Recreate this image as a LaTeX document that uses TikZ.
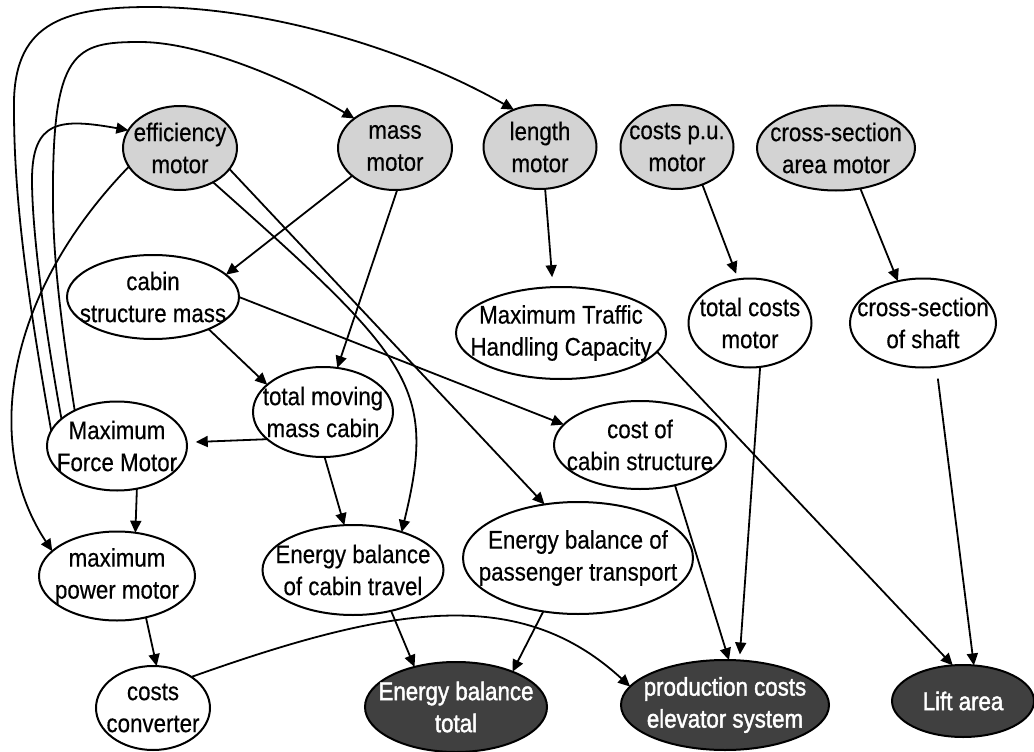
\documentclass[tikz,border=0pt]{standalone}
\usepackage{fontspec}
\setmainfont[FakeStretch=0.875,FakeBold=0.4]{Liberation Sans}
\newfontfamily\darkfont[FakeStretch=0.875,FakeBold=1.6]{Liberation Sans}
\usetikzlibrary{shapes.geometric,arrows.meta}
\definecolor{greyfill}{RGB}{211,211,211}
\definecolor{darkfill}{RGB}{64,64,64}
\tikzset{
  ell/.style={ellipse, draw=black, line width=2pt, inner sep=0pt, outer sep=0pt},
  lite/.style={ell, fill=white},
  grey/.style={ell, fill=greyfill},
  dark/.style={ell, fill=darkfill},
  lbl/.style={align=center, inner sep=0pt, font=\fontsize{25.5}{32}\selectfont},
  dlbl/.style={align=center, inner sep=0pt, text=white, font=\darkfont\fontsize{25.5}{32}\selectfont},
  conn/.style={line width=1.8pt, -{Triangle[length=12pt,width=11pt]}},
}
\begin{document}
\begin{tikzpicture}[x=1pt,y=-1pt]
\useasboundingbox[fill=white] (0,0) rectangle (1034,752);
% top row
\node[grey, minimum width=114pt, minimum height=84pt, label={[lbl]center:{efficiency\\motor}}] (eff) at (180,148) {};
\node[grey, minimum width=114pt, minimum height=84pt, label={[lbl]center:{mass\\motor}}] (mass) at (395,148) {};
\node[grey, minimum width=113pt, minimum height=84pt, label={[lbl]center:{length\\motor}}] (len) at (540,147) {};
\node[grey, minimum width=113pt, minimum height=84pt, label={[lbl]center:{costs p.u.\\motor}}] (cpu) at (677,147) {};
\node[grey, minimum width=158pt, minimum height=85pt, label={[lbl]center:{cross-section\\area motor}}] (csam) at (836,148) {};
% second row
\node[lite, minimum width=172pt, minimum height=84pt, label={[lbl]center:{cabin\\structure mass}}] (csm) at (153,297) {};
\node[lite, minimum width=210pt, minimum height=92pt, label={[lbl]center:{Maximum Traffic\\Handling Capacity}}] (mthc) at (561,333) {};
\node[lite, minimum width=123pt, minimum height=89pt, label={[lbl]center:{total costs\\motor}}] (tcm) at (750,323) {};
\node[lite, minimum width=146pt, minimum height=89pt, label={[lbl]center:{cross-section\\of shaft}}] (css) at (923,323) {};
% third row
\node[lite, minimum width=140pt, minimum height=90pt, label={[lbl]center:{total moving\\mass cabin}}] (tmmc) at (323,412) {};
\node[lite, minimum width=140pt, minimum height=89pt, label={[lbl]center:{Maximum\\Force Motor}}] (mfm) at (117,446) {};
\node[lite, minimum width=172pt, minimum height=88pt, label={[lbl]center:{cost of\\cabin structure}}] (ccs) at (640,445) {};
% fourth row
\node[lite, minimum width=156pt, minimum height=89pt, label={[lbl]center:{maximum\\power motor}}] (mpm) at (117,576) {};
\node[lite, minimum width=181pt, minimum height=90pt, label={[lbl]center:{Energy balance\\of cabin travel}}] (ebct) at (353,570) {};
\node[lite, minimum width=230pt, minimum height=112pt, label={[lbl]center:{Energy balance of\\passenger transport}}] (ebpt) at (578,558) {};
% bottom row
\node[lite, minimum width=114pt, minimum height=84pt, label={[lbl]center:{costs\\converter}}] (ccv) at (153,708) {};
\node[dark, minimum width=182pt, minimum height=90pt, label={[dlbl]center:{Energy balance\\total}}] (ebt) at (456,707) {};
\node[dark, minimum width=208pt, minimum height=90pt, label={[dlbl]center:{production costs\\elevator system}}] (pces) at (725,705) {};
\node[dark, minimum width=142pt, minimum height=72pt, label={[dlbl]center:{Lift area}}] (lift) at (963,701) {};
% connectors
\draw[conn] (mass.213) -- (csm.17);
\draw[conn] (mass.273) -- (tmmc.72);
\draw[conn] (eff.314) .. controls (413,360) and (437,387) .. (ebct.38);
\draw[conn] (eff.337) -- (ebpt.122);
\draw[conn] (csm.330) -- (tmmc.154);
\draw[conn] (csm.0) -- (ccs.165);
\draw[conn, shorten >=9pt] (tmmc.206) -- (mfm.3);
\draw[conn] (tmmc.272) -- (ebct.101);
\draw[conn] (mfm.295) -- (mpm.67);
\draw[conn] (mpm.305) -- (ccv.85);
\draw[conn] (ccv.39) .. controls (393,605) and (520,585) .. (pces.169);
\draw[conn] (ebct.313) -- (ebt.136);
\draw[conn] (ebpt.237) -- (ebt.32);
\draw[conn] (ccs.311) -- (pces.85);
\draw[conn, shorten >=6pt] (tcm.283) -- (pces.72);
\draw[conn] (mthc.349) -- (lift.106);
\draw[conn, shorten <=12pt] (css.287) -- (lift.73);
\draw[conn, shorten >=10pt] (len.277) -- (mthc.100);
\draw[conn, shorten >=6pt] (cpu.304) -- (tcm.105);
\draw[conn] (csam.301) -- (css.121);
% loops from Maximum Force Motor
\draw[conn] (mfm.167) .. controls (28,300) and (14,200) .. (14,110) .. controls (12,25) and (60,7) .. (150,7) .. controls (260,7) and (400,45) .. (len.125);
\draw[conn] (mfm.154) .. controls (40,300) and (32,220) .. (32,180) .. controls (32,120) and (60,118) .. (eff.161);
\draw[conn] (mfm.140) .. controls (62,330) and (53,260) .. (53,200) .. controls (52,50) and (75,42) .. (140,42) .. controls (200,42) and (290,80) .. (mass.144);
\draw[conn] (eff.200) .. controls (0,300) and (-15,450) .. (mpm.159);
\end{tikzpicture}
\end{document}
